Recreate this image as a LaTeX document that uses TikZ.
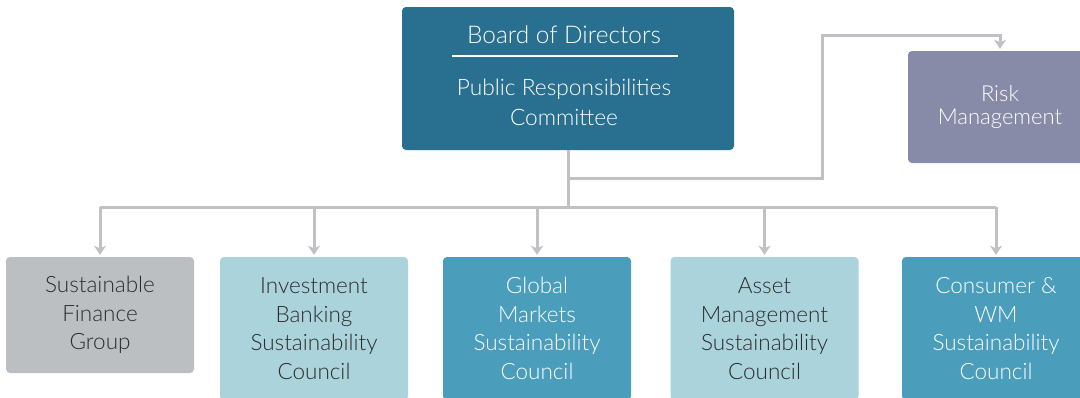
\documentclass[tikz,border=0pt]{standalone}
\usepackage{fontspec}
\setmainfont{Lato Light}
\usetikzlibrary{arrows.meta,positioning}
\definecolor{boardblue}{HTML}{296F8F}
\definecolor{riskslate}{HTML}{888BA8}
\definecolor{sfgray}{HTML}{BCBFC2}
\definecolor{paleteal}{HTML}{ABD3DB}
\definecolor{midteal}{HTML}{4A9DBB}
\definecolor{linkgray}{HTML}{BFC1C4}
\definecolor{inkdark}{HTML}{2B2B2B}
\tikzset{
  box/.style={rounded corners=4pt,align=center,inner sep=0pt,
    font=\fontsize{22.5}{28.7}\selectfont},               % plain rounded box
  darkbox/.style={box,fill=#1,text=white},               % white lettering
  lightbox/.style={box,fill=#1,text=inkdark},            % dark lettering
  council/.style={minimum width=188pt,minimum height=143pt},
  link/.style={linkgray,line width=3pt},
  linkarr/.style={link,-{Stealth[length=9pt,width=12pt,inset=2.5pt]},shorten >=2pt},
}

\begin{document}
\begin{tikzpicture}[x=1pt,y=-1pt]
  \useasboundingbox (0,0) rectangle (1080,397);
  \clip (0,0) rectangle (1080,397);
  % top: board and its committee
  \node[darkbox=boardblue,minimum width=332pt,minimum height=143pt] (board) at (568,78.5) {};
  \node[text=white,font=\fontsize{24.4}{28}\selectfont,anchor=base] (bod) at (564,43.5) {Board of Directors};
  \draw[white,line width=2.5pt] (452,56) -- (678,56);
  \node[text=white,font=\fontsize{22.7}{30}\selectfont,align=center,anchor=base] (prc) at (564,125) {Public Responsibilities\\Committee};
  \node[darkbox=riskslate,font=\fontsize{22}{23}\selectfont,minimum width=184pt,minimum height=112pt] (risk) at (1000,107) {Risk\\Management};
  % bottom row
  \node[lightbox=sfgray,minimum width=188pt,minimum height=116pt] (sfg) at (100,315) {Sustainable\\Finance\\Group};
  \node[lightbox=paleteal,council] (ibsc) at (314,328.5) {Investment\\Banking\\Sustainability\\Council};
  \node[darkbox=midteal,council] (gmsc) at (537,328.5) {Global\\Markets\\Sustainability\\Council};
  \node[lightbox=paleteal,council] (amsc) at (764.5,328.5) {Asset\\Management\\Sustainability\\Council};
  \node[darkbox=midteal,council] (cwsc) at (996,328.5) {Consumer \&\\WM\\Sustainability\\Council};
  % connectors
  \coordinate (bend) at (822,35);
  \draw[link] (board.south) -- (board.south |- 0,207);
  \draw[link] (sfg.north |- 0,207) -- (cwsc.north |- 0,207);
  \foreach \n in {sfg,ibsc,gmsc,amsc,cwsc}
    \draw[linkarr] (\n.north |- 0,207) -- (\n.north);
  \draw[linkarr] (board.south |- 0,178) -| (bend) -| (risk.north);
\end{tikzpicture}
\end{document}
